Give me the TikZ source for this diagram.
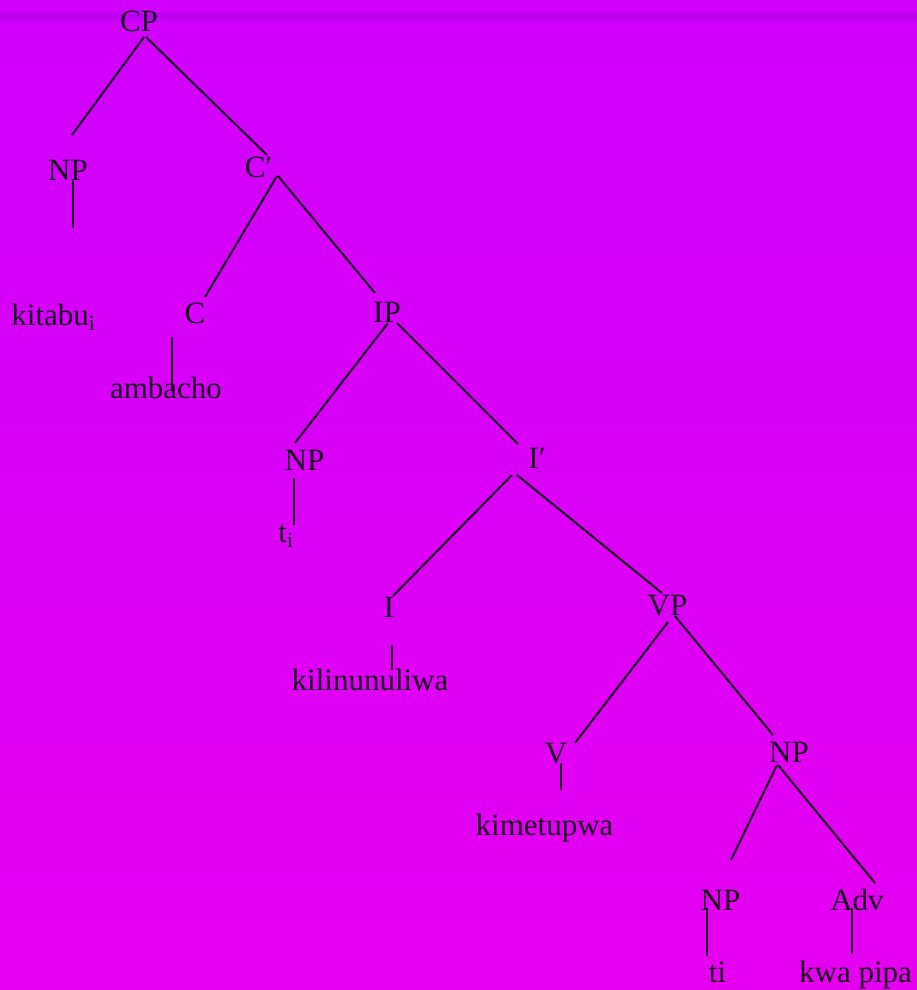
\documentclass[tikz,border=0pt]{standalone}
\usepackage{fontspec}
\setmainfont{Liberation Serif}
\usetikzlibrary{calc}
\definecolor{bgtop}{HTML}{D000FF}
\definecolor{bgbot}{HTML}{E600F0}
\definecolor{band}{HTML}{A000E0}
\definecolor{ink}{HTML}{1A0620}
\tikzset{
  lbl/.style={anchor=base, inner sep=0pt, text=ink, font=\fontsize{31}{36}\selectfont},
  branch/.style={draw=ink, line width=2pt}
}
\begin{document}
\begin{tikzpicture}[x=1pt,y=-1pt]
\useasboundingbox (0,0) rectangle (917,990);
\shade[top color=bgtop, bottom color=bgbot] (0,0) rectangle (917,990);
\fill[band, opacity=0.3] (0,12) rectangle (917,21);
\fill[band, opacity=0.2] (0,14) rectangle (917,17);

% nodes
\node[lbl] (cp)     at (139,32)   {CP};
\node[lbl] (np1)    at (68,180)   {NP};
\node[lbl] (cbar)   at (258.5,177) {C′};
\node[lbl] (kitabu) at (53.5,325) {kitabu\textsubscript{i}};
\node[lbl] (c)      at (195,323)  {C};
\node[lbl] (ip)     at (387,322)  {IP};
\node[lbl] (ambacho) at (166,398) {ambacho};
\node[lbl] (np2)    at (304.5,470) {NP};
\node[lbl] (ibar)   at (537,468)  {I′};
\node[lbl] (ti1)    at (286,542)  {t\textsubscript{i}};
\node[lbl] (i)      at (389,617)  {I};
\node[lbl] (vp)     at (667.5,615) {VP};
\node[lbl] (kili)   at (370,690)  {kilinunuliwa};
\node[lbl] (v)      at (556,763)  {V};
\node[lbl] (np3)    at (789,762)  {NP};
\node[lbl] (kime)   at (544.5,835) {kimetupwa};
\node[lbl] (np4)    at (720.5,910) {NP};
\node[lbl] (adv)    at (857,910)  {Adv};
\node[lbl] (ti2)    at (717.5,982) {ti};
\node[lbl] (kwa)    at (855.5,982) {kwa pipa};

% branches
\draw[branch] ($(cp.base)+(5,5)$) -- ($(np1.base)+(4,-45)$);
\draw[branch] ($(cp.base)+(7,5)$) -- ($(cbar.base)+(8.5,-22)$);
\draw[branch] ($(np1.base)+(5,0)$) -- ($(kitabu.base)+(19.5,-97)$);
\draw[branch] ($(cbar.base)+(18.5,-1)$) -- ($(c.base)+(10,-26)$);
\draw[branch] ($(cbar.base)+(19.5,-1)$) -- ($(ip.base)+(-12,-29)$);
\draw[branch] ($(c.base)+(-23,14)$) -- ($(ambacho.base)+(6,-8)$);
\draw[branch] ($(ip.base)+(1,1)$) -- ($(np2.base)+(-9.5,-27)$);
\draw[branch] ($(ip.base)+(10,1)$) -- ($(ibar.base)+(-19,-24)$);
\draw[branch] ($(np2.base)+(-10.5,8)$) -- ($(ti1.base)+(8,-17)$);
\draw[branch] ($(ibar.base)+(-25,7)$) -- ($(i.base)+(4,-21)$);
\draw[branch] ($(ibar.base)+(-20,7)$) -- ($(vp.base)+(-5.5,-22)$);
\draw[branch] ($(i.base)+(3,28)$) -- ($(kili.base)+(22,-20)$);
\draw[branch] ($(vp.base)+(0.5,7)$) -- ($(v.base)+(19,-20)$);
\draw[branch] ($(vp.base)+(7.5,1)$) -- ($(np3.base)+(-16,-27)$);
\draw[branch] ($(v.base)+(5,0)$) -- ($(kime.base)+(16.5,-45)$);
\draw[branch] ($(np3.base)+(-12,3)$) -- ($(np4.base)+(10.5,-50)$);
\draw[branch] ($(np3.base)+(-11,3)$) -- ($(adv.base)+(18,-27)$);
\draw[branch] ($(np4.base)+(-13.5,-2)$) -- ($(ti2.base)+(-10.5,-26)$);
\draw[branch] ($(adv.base)+(-5,-2)$) -- ($(kwa.base)+(-3.5,-28)$);
\end{tikzpicture}
\end{document}
